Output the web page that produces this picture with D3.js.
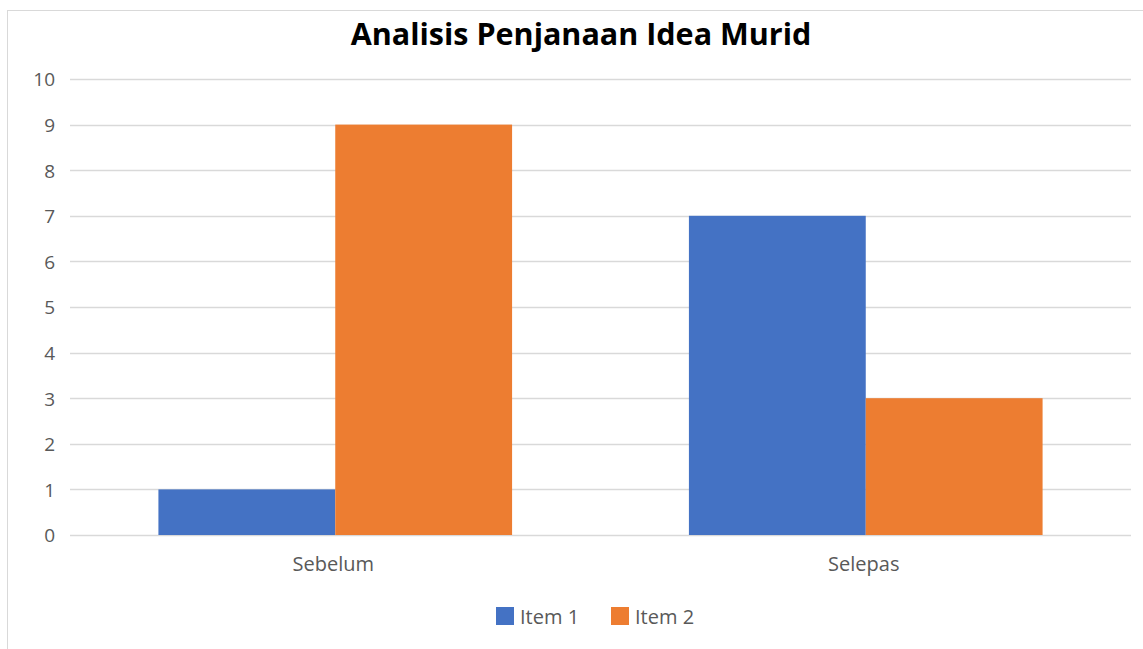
<!DOCTYPE html>
<html><head><meta charset="utf-8">
<script src="https://cdn.jsdelivr.net/npm/d3@7"></script>
<style>body{margin:0;background:#fff;}svg{display:block;}</style>
</head><body>
<svg id="c" width="1143" height="649"></svg>
<script>
const categories = ["Sebelum", "Selepas"];
const seriesNames = ["Item 1", "Item 2"];
const item1 = [1, 7];
const item2 = [9, 3];
const yTicks = [0,1,2,3,4,5,6,7,8,9,10];
const colors = ["#4472C4", "#ED7D31"];

(function(){
const svg = d3.select("#c");
const font = "'Open Sans', 'Noto Sans', sans-serif";
svg.append("rect").attr("x",7.5).attr("y",10.5).attr("width",1160).attr("height",660)
  .attr("fill","#fff").attr("stroke","#d9d9d9");

const mLeft = 70, mRight = 1131, mTop = 79, mBottom = 535;
const x0 = d3.scaleBand().domain(categories).range([mLeft,mRight]).paddingInner(1/3).paddingOuter(1/6);
const x1 = d3.scaleBand().domain(seriesNames).range([0,x0.bandwidth()]);
const y = d3.scaleLinear().domain([0,10]).range([mBottom,mTop]);

svg.append("g").selectAll("line").data(yTicks).join("line")
  .attr("x1",mLeft).attr("x2",mRight).attr("y1",d=>Math.round(y(d))+0.5).attr("y2",d=>Math.round(y(d))+0.5)
  .attr("stroke","#d9d9d9").attr("stroke-width",1.3);

const yAxis = svg.append("g").attr("transform",`translate(${mLeft},0)`)
  .call(d3.axisLeft(y).tickValues(yTicks).tickSize(0).tickPadding(15));
yAxis.select(".domain").remove();
yAxis.selectAll("text").attr("fill","#595959").attr("dy","0.36em").style("font-family",font).style("font-size","19px");

const data = categories.map((c,i)=>({c, vals:[item1[i], item2[i]]}));
const g = svg.append("g").selectAll("g").data(data).join("g")
  .attr("transform",d=>`translate(${x0(d.c)},0)`);
g.selectAll("rect").data(d=>d.vals.map((v,j)=>({v,s:seriesNames[j],j}))).join("rect")
  .attr("x",d=>x1(d.s)).attr("width",x1.bandwidth())
  .attr("y",d=>y(d.v)).attr("height",d=>y(0)-y(d.v))
  .attr("fill",d=>colors[d.j]);

const xAxis = svg.append("g").attr("transform",`translate(0,${mBottom})`)
  .call(d3.axisBottom(x0).tickSize(0).tickPadding(0));
xAxis.select(".domain").remove();
xAxis.selectAll("text").attr("fill","#595959").attr("y",36).attr("dy",0).attr("dx",-2)
  .style("font-family",font).style("font-size","20px");

svg.append("text").attr("x",581).attr("y",45).attr("text-anchor","middle")
  .style("font-family",font).style("font-weight","bold").style("font-size","30.5px").attr("fill","#000")
  .text("Analisis Penjanaan Idea Murid");

const leg = svg.append("g");
const legX = [496, 611];
seriesNames.forEach((s,i)=>{
  leg.append("rect").attr("x",legX[i]).attr("y",607).attr("width",18).attr("height",18).attr("fill",colors[i]);
  leg.append("text").attr("x",legX[i]+24).attr("y",624).attr("fill","#595959")
    .style("font-family",font).style("font-size","20px").text(s);
});
})();
</script>
</body></html>
